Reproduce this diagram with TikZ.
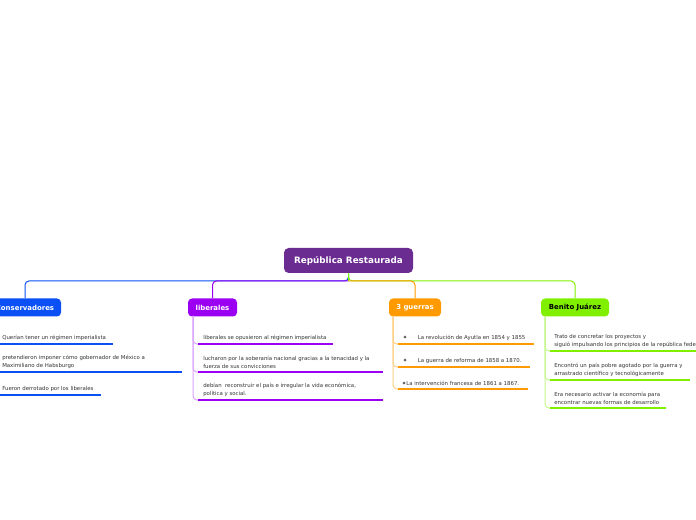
\documentclass[tikz,border=0pt]{standalone}
\usepackage{fontspec}
\setmainfont{DejaVu Sans}
\definecolor{cRoot}{HTML}{6A2C91}
\definecolor{cCons}{HTML}{0B50F5}
\definecolor{cLib}{HTML}{9B00F2}
\definecolor{cGue}{HTML}{FF9A00}
\definecolor{cBen}{HTML}{80F000}
\definecolor{tCons}{HTML}{9DB9FA}
\definecolor{tLib}{HTML}{D9A3FF}
\definecolor{tGue}{HTML}{FFCF85}
\definecolor{tBen}{HTML}{C3F88A}
\definecolor{txt}{HTML}{333333}
\begin{document}
\begin{tikzpicture}[x=0.75pt,y=-0.75pt,
  rootbox/.style={fill=cRoot,rounded corners=3.5pt,minimum width=96.75pt,minimum height=18.75pt,
    text=white,font=\fontsize{6.6}{8}\selectfont\bfseries,inner sep=0pt},
  topicbox/.style={rounded corners=3pt,minimum height=13.5pt,inner sep=0pt,
    text=white,font=\fontsize{5.2}{6}\selectfont\bfseries},
  childtxt/.style={anchor=south west,inner sep=0pt,align=left,text=txt,
    font=\fontsize{4.05}{6}\selectfont},
  branch/.style={line width=0.75pt,rounded corners=3pt},
  sub/.style={line width=0.75pt,rounded corners=3pt},
  uline/.style={line width=2.1pt},
]
\useasboundingbox (0,0) rectangle (696,520);

% main nodes
\node[rootbox] (root) at (348.5,260.5) {República Restaurada};
\node[topicbox,fill=cCons,minimum width=54pt] (cons) at (25,307.5) {Conservadores};
\node[topicbox,fill=cLib,minimum width=36.75pt] (lib) at (212.5,307.5) {liberales};
\node[topicbox,fill=cGue,minimum width=39pt] (gue) at (415,307.5) {3 guerras};
\node[topicbox,fill=cBen,minimum width=51pt,text=black] (ben) at (575,307.5) {Benito Juárez};

% branches
\coordinate (j) at (348.5,281);
\draw[branch,cCons] (root.south) |- (j) -| (cons.north);
\draw[branch,cLib] (j) -| (lib.north);
\draw[branch,cBen] (root.south) |- (j) -| (ben.north);
\draw[branch,cGue] (j) -| (gue.north);
\draw[line width=0.75pt,cBen] (root.south) -- (j);

% Conservadores children
\coordinate (c1s) at (-5,344); \coordinate (c1e) at (113,344);
\coordinate (c2s) at (-5,372); \coordinate (c2e) at (182,372);
\coordinate (c3s) at (-5,395); \coordinate (c3e) at (101,395);
\node[childtxt] (c1) at (2,341) {Querían tener un régimen imperialista};
\node[childtxt] (c2) at (2,369) {pretendieron imponer cómo gobernador de México a\\Maximiliano de Habsburgo};
\node[childtxt] (c3) at (2,392) {Fueron derrotado por los liberales};
\draw[uline,cCons] (c1s) -- (c1e);
\draw[uline,cCons] (c2s) -- (c2e);
\draw[uline,cCons] (c3s) -- (c3e);

% liberales children
\coordinate (lv) at (193,316);
\coordinate (l1s) at (198,344); \coordinate (l1e) at (333,344);
\coordinate (l2s) at (198,372); \coordinate (l2e) at (383,372);
\coordinate (l3s) at (198,400); \coordinate (l3e) at (383,400);
\draw[sub,tLib] (lv) |- (l1s);
\draw[sub,tLib] (lv) |- (l2s);
\draw[sub,tLib] (lv) |- (l3s);
\node[childtxt] (l1) at (203,341) {liberales se opusieron al régimen imperialista};
\node[childtxt] (l2) at (203,369) {lucharon por la soberanía nacional gracias a la tenacidad y la\\fuerza de sus convicciones};
\node[childtxt] (l3) at (203,397) {debían\ \ reconstruir el país e irregular la vida económica,\\política y social.};
\draw[uline,cLib] (l1s) -- (l1e);
\draw[uline,cLib] (l2s) -- (l2e);
\draw[uline,cLib] (l3s) -- (l3e);

% 3 guerras children
\coordinate (gv) at (393,316);
\coordinate (g1s) at (398,344); \coordinate (g1e) at (534,344);
\coordinate (g2s) at (398,367); \coordinate (g2e) at (530,367);
\coordinate (g3s) at (398,389); \coordinate (g3e) at (528,389);
\draw[sub,tGue] (gv) |- (g1s);
\draw[sub,tGue] (gv) |- (g2s);
\draw[sub,tGue] (gv) |- (g3s);
\node[childtxt] (g1) at (402.5,341) {✦\hspace{8pt}La revolución de Ayutla en 1854 y 1855};
\node[childtxt] (g2) at (402.5,364) {✦\hspace{8pt}La guerra de reforma de 1858 a 1870.};
\node[childtxt] (g3) at (401.5,386) {✦La intervención francesa de 1861 a 1867.};
\draw[uline,cGue] (g1s) -- (g1e);
\draw[uline,cGue] (g2s) -- (g2e);
\draw[uline,cGue] (g3s) -- (g3e);

% Benito Juarez children
\coordinate (bv) at (545,316);
\coordinate (b1s) at (550,351); \coordinate (b1e) at (700,351);
\coordinate (b2s) at (550,380); \coordinate (b2e) at (690,380);
\coordinate (b3s) at (550,408); \coordinate (b3e) at (666,408);
\draw[sub,tBen] (bv) |- (b1s);
\draw[sub,tBen] (bv) |- (b2s);
\draw[sub,tBen] (bv) |- (b3s);
\node[childtxt] (b1) at (554,348) {Trato de concretar los proyectos y\\siguió impulsando los principios de la república federal};
\node[childtxt] (b2) at (554,377) {Encontró un país pobre agotado por la guerra y\\arrastrado científico y tecnológicamente};
\node[childtxt] (b3) at (554,405) {Era necesario activar la economía para\\encontrar nuevas formas de desarrollo};
\draw[uline,cBen] (b1s) -- (b1e);
\draw[uline,cBen] (b2s) -- (b2e);
\draw[uline,cBen] (b3s) -- (b3e);
\end{tikzpicture}
\end{document}
